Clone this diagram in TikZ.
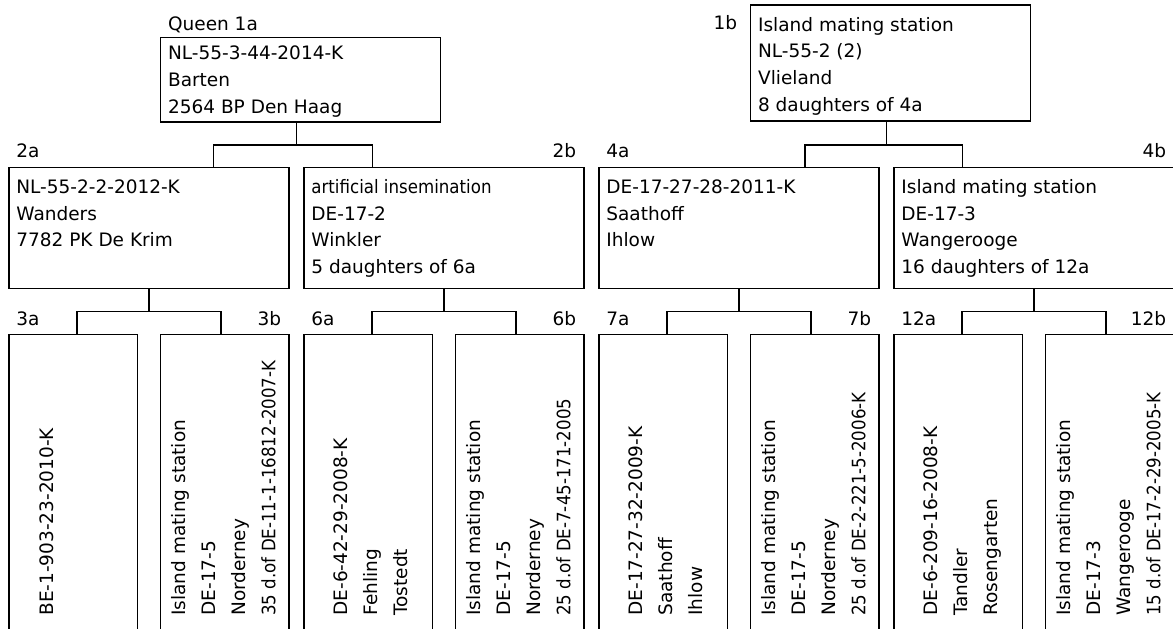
\documentclass[tikz,border=0pt]{standalone}
\usepackage{fontspec}
\setmainfont{DejaVu Sans}
\newfontfamily\condfont[FakeStretch=0.9]{DejaVu Sans}
\usetikzlibrary{positioning,calc}
\tikzset{
  famblk/.style ={draw, rectangle, line width=0.6pt, anchor=north west, inner sep=0pt, outer sep=0pt, minimum width=140pt},
  sonblk/.style ={draw, rectangle, line width=0.6pt, anchor=north west, inner sep=0pt, outer sep=0pt, minimum width=64.25pt, minimum height=165pt},
  txt/.style    ={anchor=north west, inner sep=0pt, align=left, font=\fontsize{9.25}{13.3}\selectfont, execute at begin node=\rule{0pt}{7.1pt}},
  vtxt/.style   ={rotate=90, anchor=north west, inner sep=0pt, align=left, font=\fontsize{9.25}{15}\selectfont, execute at begin node=\rule{0pt}{7.1pt}},
  tag/.style    ={inner sep=0pt, font=\fontsize{9.25}{11}\selectfont},
  link/.style   ={line width=0.6pt},
}

\begin{document}
\begin{tikzpicture}[x=0.5pt, y=-0.5pt]
  \path[use as bounding box] (0,0) rectangle (1173,628);
  \clip (0,0) rectangle (1173,628);
  \fill[white] (0,0) rectangle (1173,628);

  % queen and mating station
  \node[famblk, minimum height=42.25pt] (n1a) at (160.7,37.5) {};
  \node[famblk, minimum height=58pt]    (n1b) at (750.7,5)    {};
  \node[txt] (t1a) at (167.7,45.8) {NL-55-3-44-2014-K\\Barten\\2564 BP Den Haag};
  \node[txt] (t1b) at (757.7,16.8) {Island mating station\\NL-55-2 (2)\\Vlieland\\8 daughters of 4a};
  \node[tag, anchor=base west] (g1a) at (167.7,30) {Queen 1a};
  \node[tag, anchor=base east] (g1b) at (737.5,29) {1b};

  % second row
  \node[famblk, minimum height=60.4pt] (n2a) at (9,167.5)   {};
  \node[famblk, minimum height=60.4pt] (n2b) at (304,167.5) {};
  \node[famblk, minimum height=60.4pt] (n4a) at (599,167.5) {};
  \node[famblk, minimum height=60.4pt] (n4b) at (894,167.5) {};
  \node[txt] (t2a) at (16,179.3)  {NL-55-2-2-2012-K\\Wanders\\7782 PK De Krim};
  \node[txt] (t2b) at (311,179.3) {{\condfont artificial insemination}\\DE-17-2\\Winkler\\5 daughters of 6a};
  \node[txt] (t4a) at (606,179.3) {DE-17-27-28-2011-K\\Saathoff\\Ihlow};
  \node[txt] (t4b) at (901,179.3) {Island mating station\\DE-17-3\\Wangerooge\\16 daughters of 12a};
  \node[tag, anchor=base west] (g2a) at (16,157)    {2a};
  \node[tag, anchor=base east] (g2b) at (576.5,157) {2b};
  \node[tag, anchor=base west] (g4a) at (606,157)   {4a};
  \node[tag, anchor=base east] (g4b) at (1166.5,157) {4b};

  % third row, text turned upwards
  \node[sonblk] (n3a)  at (9,334.3)     {};
  \node[sonblk] (n3b)  at (160.5,334.3) {};
  \node[sonblk] (n6a)  at (304,334.3)   {};
  \node[sonblk] (n6b)  at (455.5,334.3) {};
  \node[sonblk] (n7a)  at (599,334.3)   {};
  \node[sonblk] (n7b)  at (750.5,334.3) {};
  \node[sonblk] (n12a) at (894,334.3)   {};
  \node[sonblk] (n12b) at (1045.5,334.3) {};
  \node[vtxt] (t3a)  at (38.8,616)   {BE-1-903-23-2010-K};
  \node[vtxt] (t3b)  at (170.8,616)  {Island mating station\\DE-17-5\\Norderney\\{\condfont 35 d.of DE-11-1-16812-2007-K}};
  \node[vtxt] (t6a)  at (333.8,616)  {DE-6-42-29-2008-K\\Fehling\\Tostedt};
  \node[vtxt] (t6b)  at (465.8,616)  {Island mating station\\DE-17-5\\Norderney\\{\condfont 25 d.of DE-7-45-171-2005}};
  \node[vtxt] (t7a)  at (628.8,616)  {DE-17-27-32-2009-K\\Saathoff\\Ihlow};
  \node[vtxt] (t7b)  at (760.8,616)  {Island mating station\\DE-17-5\\Norderney\\{\condfont 25 d.of DE-2-221-5-2006-K}};
  \node[vtxt] (t12a) at (923.8,616)  {DE-6-209-16-2008-K\\Tandler\\Rosengarten};
  \node[vtxt] (t12b) at (1055.8,616) {Island mating station\\DE-17-3\\Wangerooge\\{\condfont 15 d.of DE-17-2-29-2005-K}};
  \node[tag, anchor=base west] (g3a)  at (16,325)     {3a};
  \node[tag, anchor=base east] (g3b)  at (281.5,325)  {3b};
  \node[tag, anchor=base west] (g6a)  at (311,325)    {6a};
  \node[tag, anchor=base east] (g6b)  at (576.5,325)  {6b};
  \node[tag, anchor=base west] (g7a)  at (606,325)    {7a};
  \node[tag, anchor=base east] (g7b)  at (871.5,325)  {7b};
  \node[tag, anchor=base west] (g12a) at (901,325)    {12a};
  \node[tag, anchor=base east] (g12b) at (1166.5,325) {12b};

  % brackets
  \draw[link] ($(n1a.south)+(-4,0)$) -- ++(0,23) coordinate (j1a);
  \draw[link] ($(n2a.north)+(64.5,0)$) |- (j1a) -| ($(n2b.north)+(-71.7,0)$);
  \draw[link] ($(n1b.south)+(-4,0)$) -- ++(0,24) coordinate (j1b);
  \draw[link] ($(n4a.north)+(66,0)$) |- (j1b) -| ($(n4b.north)+(-71.7,0)$);

  \draw[link] (n2a.south) -- ++(0,23.4) coordinate (j2a);
  \draw[link] ($(n3a.north)+(3.8,0)$) |- (j2a) -| ($(n3b.north)+(-3.8,0)$);
  \draw[link] (n2b.south) -- ++(0,23.4) coordinate (j2b);
  \draw[link] ($(n6a.north)+(3.8,0)$) |- (j2b) -| ($(n6b.north)+(-3.8,0)$);
  \draw[link] (n4a.south) -- ++(0,23.4) coordinate (j4a);
  \draw[link] ($(n7a.north)+(3.8,0)$) |- (j4a) -| ($(n7b.north)+(-3.8,0)$);
  \draw[link] (n4b.south) -- ++(0,23.4) coordinate (j4b);
  \draw[link] ($(n12a.north)+(3.8,0)$) |- (j4b) -| ($(n12b.north)+(-3.8,0)$);
\end{tikzpicture}
\end{document}
